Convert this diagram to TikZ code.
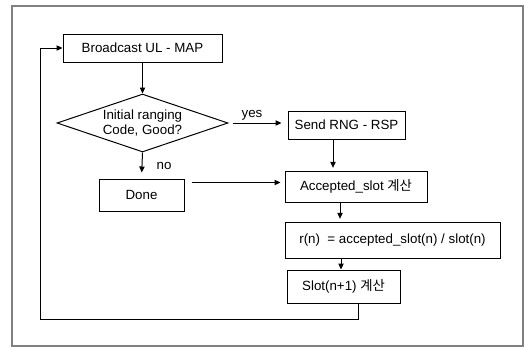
\documentclass[tikz,border=0pt]{standalone}
\usepackage{fontspec}
\setmainfont{Liberation Sans}
\newfontfamily\kr{Noto Sans CJK KR}
\usetikzlibrary{shapes.geometric,arrows.meta}
\begin{document}
\begin{tikzpicture}[x=0.75pt,y=-0.75pt,
 box/.style={draw, line width=0.75pt, inner sep=0pt, font=\fontsize{10}{11}\selectfont},
 arr/.style={line width=0.75pt, -{Triangle[length=4.5pt,width=4pt]}},
 lbl/.style={font=\fontsize{10}{11}\selectfont, inner sep=0pt}]
\useasboundingbox (0,0) rectangle (524,347);
\draw[line width=1.5pt, gray] (12,6) rectangle (522.5,345.5);

\node[box, minimum width=159*0.75pt, minimum height=28*0.75pt] (bc) at (142.5,48) {Broadcast UL - MAP};
\node[box, diamond, aspect=2.95, minimum width=171*0.75pt, minimum height=58*0.75pt, align=center] (dm) at (142.5,123) {Initial ranging\\Code, Good?};
\node[box, minimum width=85*0.75pt, minimum height=32*0.75pt] (dn) at (141.5,195) {Done};
\node[box, minimum width=117*0.75pt, minimum height=28*0.75pt] (sr) at (346.5,125) {Send RNG - RSP};
\node[box, minimum width=142*0.75pt, minimum height=31*0.75pt] (ac) at (356,186.5) {Accepted\_slot {\kr 계산}};
\node[box, minimum width=215*0.75pt, minimum height=36*0.75pt] (rn) at (392.5,240) {r(n)\ \ = accepted\_slot(n) / slot(n)};
\node[box, minimum width=113*0.75pt, minimum height=33*0.75pt] (sl) at (343.5,286.5) {Slot(n+1) {\kr 계산}};

\draw[arr] (bc.south) -- (dm.north);
\draw[arr, shorten >=4.5pt] (dm.south) -- (dn.north);
\node[lbl] (no) at (164,166) {no};
\draw[arr, shorten <=3pt, shorten >=4.5pt] (dm.east) -- (dm.east -| sr.west);
\node[lbl] (yes) at (252,115) {yes};
\coordinate (s1) at ([xshift=-13.5*0.75pt]sr.south);
\draw[arr, shorten >=2pt] (s1) -- (s1 |- ac.north);
\coordinate (d1) at ([xshift=7*0.75pt, yshift=-4*0.75pt]dn.north east);
\draw[arr, shorten >=3pt] (d1) -- (d1 -| ac.west);
\coordinate (a1) at ([xshift=-16*0.75pt]ac.south);
\draw[arr, shorten >=2pt] (a1) -- (a1 |- rn.north);
\coordinate (r1) at ([xshift=-51.5*0.75pt]rn.south);
\draw[arr] (r1) -- (r1 |- sl.north);
\coordinate (l1) at ([xshift=14.5*0.75pt]sl.south);
\coordinate (lb) at (40,319);
\draw[arr] (l1) |- (lb) |- (bc.west);
\end{tikzpicture}
\end{document}
